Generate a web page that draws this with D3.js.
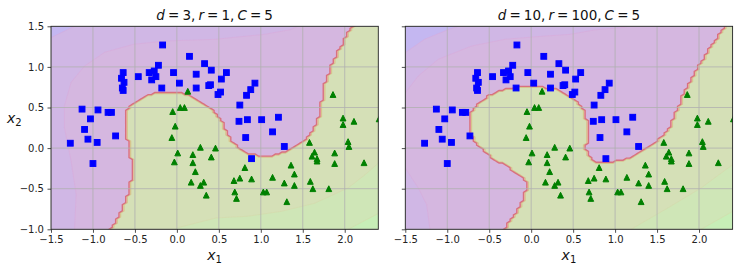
<!DOCTYPE html>
<html>
<head>
<meta charset="utf-8">
<script src="https://cdn.jsdelivr.net/npm/d3@7"></script>
<style>
  body { margin: 0; background: #fff; }
  text { font-family: "DejaVu Sans", sans-serif; }
</style>
</head>
<body>
<div id="chart"></div>
<script>
// moons dataset, class 0 (blue squares) and class 1 (green triangles)
const squares = [
  [-0.17,1.27],[0.15,1.13],[0.33,1.04],[0.41,0.96],[0.59,0.93],
  [-0.22,1.02],[-0.33,0.93],[-0.27,0.95],[-0.25,0.88],[-0.30,0.84],
  [-0.04,0.93],[0.23,0.91],[0.03,0.80],[-0.18,0.74],[0.23,0.74],
  [0.38,0.77],[0.40,0.78],[0.53,0.85],[0.52,0.69],[0.49,0.66],
  [-0.64,0.93],[-0.66,0.86],[-0.63,0.81],[-0.65,0.74],[-0.64,0.71],
  [-0.46,0.88],[0.93,0.80],[0.88,0.72],[0.83,0.65],[0.75,0.53],
  [-1.13,0.48],[-0.94,0.47],[-0.82,0.44],[-0.78,0.44],[-1.03,0.36],
  [-1.10,0.23],[0.74,0.33],[0.84,0.35],[1.01,0.35],[1.21,0.38],
  [1.14,0.20],[0.82,0.13],[-1.27,0.06],[-1.06,0.11],[-0.95,0.07],
  [-0.73,0.15],[-1.00,-0.19],[1.28,0.02],[0.89,-0.13]
];
const triangles = [
  [0.13,0.70],[-0.05,0.45],[0.04,0.50],[0.09,0.50],[-0.02,0.27],
  [-0.06,0.13],[1.86,0.66],[1.98,0.37],[1.98,0.29],[2.11,0.33],
  [2.41,0.36],[0.01,-0.06],[-0.03,-0.17],[0.19,-0.08],[0.19,-0.18],
  [0.28,0.01],[0.46,0.00],[0.41,-0.11],[0.22,-0.29],[0.17,-0.42],
  [0.32,-0.42],[0.28,-0.46],[0.35,-0.58],[0.81,-0.24],[0.75,-0.37],
  [0.68,-0.40],[0.89,-0.38],[0.69,-0.54],[0.71,-0.62],[1.03,-0.54],
  [1.07,-0.54],[1.14,-0.36],[1.28,-0.43],[1.31,-0.66],[1.36,-0.21],
  [1.40,-0.32],[1.40,-0.46],[1.58,0.07],[1.64,-0.05],[1.61,-0.10],
  [1.67,-0.13],[1.67,-0.16],[1.59,-0.41],[1.62,-0.50],[1.81,-0.50],
  [1.88,-0.06],[1.88,-0.19],[2.04,0.08],[2.05,0.02],[2.23,-0.18]
];

// decision boundary (edge of the class-1 region)
const boundaryD3 = [
  [-0.79,-1.0],[-0.70,-0.86],[-0.64,-0.74],[-0.58,-0.59],[-0.55,-0.49],[-0.53,-0.25],
  [-0.55,-0.06],[-0.58,0.08],[-0.61,0.21],[-0.61,0.42],[-0.55,0.52],[-0.47,0.58],
  [-0.35,0.64],[-0.23,0.68],[-0.03,0.69],[0.17,0.64],[0.33,0.54],[0.45,0.44],
  [0.51,0.37],[0.56,0.26],[0.62,0.14],[0.64,0.10],[0.76,-0.02],[0.88,-0.08],
  [1.00,-0.10],[1.16,-0.09],[1.32,-0.04],[1.46,0.04],[1.58,0.15],[1.64,0.25],
  [1.67,0.29],[1.70,0.42],[1.73,0.58],[1.77,0.79],[1.82,0.93],[1.86,1.05],
  [1.92,1.18],[1.98,1.28],[2.02,1.38],[2.10,1.5]
];
const boundaryD10 = [
  [-0.32,-1.0],[-0.23,-0.88],[-0.17,-0.80],[-0.11,-0.68],[-0.07,-0.57],[-0.05,-0.45],
  [-0.08,-0.37],[-0.19,-0.29],[-0.31,-0.21],[-0.47,-0.12],[-0.55,-0.04],[-0.63,0.04],
  [-0.69,0.10],[-0.72,0.21],[-0.73,0.27],[-0.72,0.40],[-0.69,0.48],[-0.63,0.55],
  [-0.51,0.64],[-0.39,0.70],[-0.27,0.74],[-0.11,0.745],[0.12,0.745],[0.29,0.72],
  [0.41,0.66],[0.44,0.64],[0.54,0.58],[0.60,0.50],[0.64,0.42],[0.66,0.31],
  [0.68,0.25],[0.68,0.08],[0.64,0.02],[0.66,-0.06],[0.74,-0.16],[0.83,-0.18],
  [1.07,-0.16],[1.23,-0.10],[1.39,0.00],[1.51,0.10],[1.61,0.19],[1.65,0.25],
  [1.71,0.40],[1.77,0.52],[1.83,0.70],[1.91,0.85],[1.99,0.99],[2.06,1.11],
  [2.14,1.24],[2.22,1.36],[2.30,1.47],[2.32,1.5]
];

// faint decision-function bands (level: 0 = most negative ... 5 = most positive)
const bandsD3 = [
  {level: 1, pts: [[-1.55,-1.05],[-1.22,-1.05],[-1.22,-1.0],[-1.20,-0.57],[-1.26,-0.16],[-1.34,0.25],
    [-1.34,0.52],[-1.26,0.81],[-1.10,1.01],[-0.86,1.18],[-0.51,1.28],[-0.11,1.32],[0.47,1.34],
    [0.64,1.36],[1.04,1.40],[1.36,1.46],[1.44,1.5],[1.44,1.55],[-1.55,1.55]]},
  {level: 0, pts: [[-1.55,1.36],[-1.5,1.36],[-1.34,1.44],[-1.22,1.5],[-1.22,1.55],[-1.55,1.55]]},
  {level: 4, pts: [[-0.02,-1.05],[-0.02,-1.0],[0.01,-0.98],[0.47,-0.86],[0.84,-0.84],[1.24,-0.78],
    [1.64,-0.68],[2.04,-0.49],[2.24,-0.33],[2.45,-0.14],[2.5,-0.14],[2.5,-1.05]]},
  {level: 5, pts: [[2.04,-1.05],[2.04,-1.0],[2.41,-0.80],[2.5,-0.78],[2.5,-1.05]]}
];
const bandsD10 = [
  {level: 1, pts: [[-1.55,0.68],[-1.5,0.68],[-1.345,0.888],[-1.107,1.094],[-0.71,1.257],[-0.313,1.34],
    [0.163,1.38],[0.46,1.40],[0.755,1.455],[1.11,1.488],[1.15,1.5],[1.15,1.55],[-1.55,1.55]]},
  {level: 1, pts: [[-1.55,-0.245],[-1.5,-0.245],[-1.345,-0.491],[-1.245,-0.697],[-1.206,-1.0],
    [-1.206,-1.05],[-1.55,-1.05]]},
  {level: 0, pts: [[-1.55,1.175],[-1.5,1.175],[-1.27,1.34],[-0.99,1.458],[-0.87,1.5],[-0.87,1.55],[-1.55,1.55]]},
  {level: 4, pts: [[1.19,-1.05],[1.19,-1.0],[1.627,-0.738],[2.024,-0.491],[2.40,-0.204],[2.5,-0.15],[2.5,-1.05]]},
  {level: 5, pts: [[2.024,-1.05],[2.024,-1.0],[2.40,-0.78],[2.5,-0.75],[2.5,-1.05]]}
];

const xTicks = [-1.5, -1.0, -0.5, 0.0, 0.5, 1.0, 1.5, 2.0];
const yTicks = [-1.0, -0.5, 0.0, 0.5, 1.0, 1.5];

const panels = [
  {title: [["d",1],[" = 3, ",0],["r",1],[" = 1, ",0],["C",1],[" = 5",0]], boundary: boundaryD3, bands: bandsD3, left: 51, ylabels: true},
  {title: [["d",1],[" = 10, ",0],["r",1],[" = 100, ",0],["C",1],[" = 5",0]], boundary: boundaryD10, bands: bandsD10, left: 405.3, ylabels: false}
];

const W = 740, H = 272;
const pw = 327.3, plotTop = 26.3, ph = 203;
const xDom = [-1.5, 2.4], yDom = [-1, 1.5];
const gridDom = [-1.5, 2.45]; // prediction grid range
const n = 100;

// matplotlib "brg" colormap
function brg(t) {
  const r = t <= 0.5 ? 2 * t : 2 - 2 * t;
  const g = t <= 0.5 ? 0 : 2 * t - 1;
  const b = t <= 0.5 ? 1 - 2 * t : 0;
  return d3.rgb(r * 255, g * 255, b * 255).toString();
}
const levelT = [0.14, 0.36, 0.45, 0.55, 0.66, 0.8];

const svg = d3.select("#chart").append("svg")
  .attr("width", W).attr("height", H);

const fmt = d => (d < 0 ? "\u2212" : "") + Math.abs(d).toFixed(1);

panels.forEach((p, pi) => {
  const sx = d3.scaleLinear().domain(xDom).range([p.left, p.left + pw]);
  const sy = d3.scaleLinear().domain(yDom).range([plotTop + ph, plotTop]);
  const g = svg.append("g");

  const clipId = "clip" + pi;
  svg.append("clipPath").attr("id", clipId)
    .append("rect").attr("x", p.left).attr("y", plotTop).attr("width", pw).attr("height", ph);
  const plot = g.append("g").attr("clip-path", "url(#" + clipId + ")");

  // prediction grid from the boundary polygon
  const poly = p.boundary.slice();
  const last = poly[poly.length - 1], first = poly[0];
  poly.push([last[0], 1.7], [2.7, 1.7], [2.7, -1.2], [first[0], -1.2]);
  const stepX = (gridDom[1] - gridDom[0]) / (n - 1), stepY = (yDom[1] - yDom[0]) / (n - 1);
  const values = new Array(n * n);
  for (let j = 0; j < n; j++) for (let i = 0; i < n; i++) {
    values[i + j * n] = d3.polygonContains(poly, [gridDom[0] + i * stepX, yDom[0] + j * stepY]) ? 1 : 0;
  }
  const proj = d3.geoTransform({point(x, y) {
    this.stream.point(sx(gridDom[0] + (x - 0.5) * stepX), sy(yDom[0] + (y - 0.5) * stepY));
  }});
  const gpath = d3.geoPath(proj);
  const line = d3.line().x(d => sx(d[0])).y(d => sy(d[1]));

  // layer 1: predicted class, alpha 0.2
  const levels = [0, 0.15, 0.3, 0.45, 0.6, 0.75, 0.9, 1.05];
  const thr = levels.slice(0, -1);
  const conts = d3.contours().size([n, n]).thresholds(thr)(values);
  const l1 = plot.append("g").attr("opacity", 0.2);
  l1.append("rect").attr("x", p.left).attr("y", plotTop).attr("width", pw).attr("height", ph)
    .attr("fill", brg(((levels[0] + levels[1]) / 2) / 1.05));
  l1.selectAll("path").data(conts).join("path")
    .attr("d", gpath)
    .attr("fill", (d, k) => brg(((levels[k] + levels[k + 1]) / 2) / 1.05));

  // layer 2: decision function bands, alpha 0.1
  const l2 = plot.append("g").attr("opacity", 0.1);
  l2.append("rect").attr("x", p.left).attr("y", plotTop).attr("width", pw).attr("height", ph)
    .attr("fill", brg(levelT[2]));
  const half = d3.contours().size([n, n]).thresholds([0.5])(values);
  l2.append("path").attr("d", gpath(half[0])).attr("fill", brg(levelT[3]));
  l2.selectAll("path.band").data(p.bands).join("path").attr("class", "band")
    .attr("d", d => line(d.pts) + "Z")
    .attr("fill", d => brg(levelT[d.level]));
  plot.selectAll("path.edge").data(p.bands).join("path").attr("class", "edge")
    .attr("d", d => line(d.pts))
    .attr("fill", "none").attr("stroke", d => d.level < 2 ? "#dba6d6" : "#d8d4a6")
    .attr("stroke-width", 0.8).attr("stroke-opacity", 0.5);

  // boundary fringe
  const e1 = d3.contours().size([n, n]).thresholds([0.3])(values);
  const e2 = d3.contours().size([n, n]).thresholds([0.78])(values);
  plot.append("path").attr("d", gpath(e2[0])).attr("fill", "none")
    .attr("stroke", "#d6c48e").attr("stroke-width", 1.3);
  plot.append("path").attr("d", gpath(e1[0])).attr("fill", "none")
    .attr("stroke", "#d8717f").attr("stroke-width", 1.4);

  // grid
  plot.selectAll("line.gx").data(xTicks).join("line").attr("class", "gx")
    .attr("x1", d => sx(d)).attr("x2", d => sx(d)).attr("y1", plotTop).attr("y2", plotTop + ph)
    .attr("stroke", "#b0b0b0").attr("stroke-width", 0.8);
  plot.selectAll("line.gy").data(yTicks).join("line").attr("class", "gy")
    .attr("y1", d => sy(d)).attr("y2", d => sy(d)).attr("x1", p.left).attr("x2", p.left + pw)
    .attr("stroke", "#b0b0b0").attr("stroke-width", 0.8);

  // points
  const s = 5.8;
  plot.selectAll("rect.sq").data(squares).join("rect").attr("class", "sq")
    .attr("x", d => sx(d[0]) - s / 2).attr("y", d => sy(d[1]) - s / 2)
    .attr("width", s).attr("height", s)
    .attr("fill", "#0000ff").attr("stroke", "#0000ff").attr("stroke-width", 1);
  const tri = `M0,${-s / 2}L${-s / 2},${s / 2}L${s / 2},${s / 2}Z`;
  plot.selectAll("path.tri").data(triangles).join("path").attr("class", "tri")
    .attr("d", tri)
    .attr("transform", d => `translate(${sx(d[0])},${sy(d[1])})`)
    .attr("fill", "#008000").attr("stroke", "#008000").attr("stroke-width", 1);

  // axes
  const xa = g.append("g").attr("transform", `translate(0,${plotTop + ph})`)
    .call(d3.axisBottom(sx).tickValues(xTicks).tickSize(3.5).tickPadding(3).tickFormat(fmt));
  const ya = g.append("g").attr("transform", `translate(${p.left},0)`)
    .call(d3.axisLeft(sy).tickValues(yTicks).tickSize(3.5).tickPadding(3.5)
      .tickFormat(p.ylabels ? fmt : ""));
  [xa, ya].forEach(a => {
    a.select(".domain").remove();
    a.selectAll("line").attr("stroke", "#222").attr("stroke-width", 0.8);
    a.selectAll("text").attr("font-size", 10).attr("fill", "#222")
      .style("font-family", "'DejaVu Sans', sans-serif");
  });

  g.append("rect").attr("x", p.left).attr("y", plotTop).attr("width", pw).attr("height", ph)
    .attr("fill", "none").attr("stroke", "#222").attr("stroke-width", 0.9);

  // title
  const t = g.append("text").attr("x", p.left + pw / 2).attr("y", 20)
    .attr("text-anchor", "middle").attr("font-size", 13.5).attr("fill", "#111")
    .style("white-space", "pre").style("word-spacing", "-1.2px");
  p.title.forEach(([str, it]) => {
    t.append("tspan").text(str).attr("font-style", it ? "italic" : "normal");
  });

  // x label
  const xl = g.append("text").attr("x", p.left + pw / 2).attr("y", 259.5)
    .attr("text-anchor", "middle").attr("font-size", 14).attr("fill", "#111");
  xl.append("tspan").text("x").attr("font-style", "italic");
  xl.append("tspan").text("1").attr("font-size", 10).attr("dy", 3);
});

// y label (left panel only)
const yl = svg.append("text").attr("x", 7).attr("y", 122.7)
  .attr("font-size", 14).attr("fill", "#111");
yl.append("tspan").text("x").attr("font-style", "italic");
yl.append("tspan").text("2").attr("font-size", 10).attr("dy", 3);
</script>
</body>
</html>
